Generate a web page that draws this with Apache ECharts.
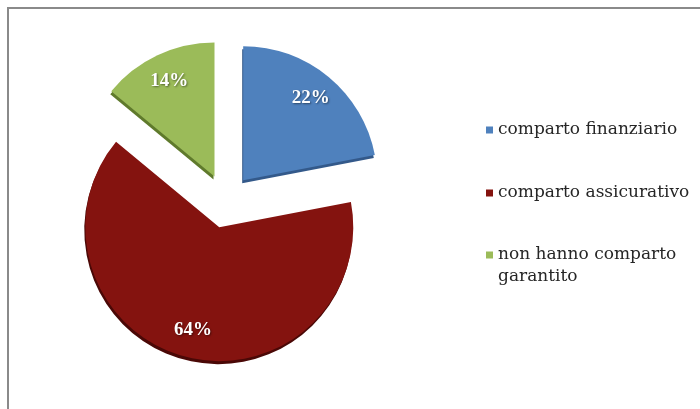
<!DOCTYPE html>
<html>
<head>
<meta charset="utf-8">
<script src="https://cdn.jsdelivr.net/npm/echarts@6/dist/echarts.min.js"></script>
<style>
  html, body { margin: 0; padding: 0; background: #fff; }
  #chart { position: absolute; left: 0; top: 0; width: 700px; height: 409px; }
  .frame {
    position: absolute; left: 7px; top: 7px; width: 700px; height: 409px;
    border-left: 2px solid #8a8a8a; border-top: 2px solid #8a8a8a;
    pointer-events: none;
  }
</style>
</head>
<body>
<div id="chart"></div>
<div class="frame"></div>
<script>
// dati del grafico
const categories = ['comparto finanziario', 'comparto assicurativo', 'non hanno comparto garantito'];
const shares = [22, 64, 14];

// colori stile Office
const sliceColors = ['#4f81bd', '#84130f', '#9bbb59'];
const edgeColors = ['#33598a', '#4a0806', '#5f7a2c'];

const pieCenter = [226, 201];
const pieRadius = 134;
const explode = 27;

let chart = echarts.init(document.getElementById('chart'));

// spicchi colorati (etichette nascoste)
let sliceData = categories.map((name, i) => ({
  name: name,
  value: shares[i],
  selected: true,
  itemStyle: {
    color: sliceColors[i],
    shadowColor: edgeColors[i],
    shadowBlur: 0,
    shadowOffsetX: -1,
    shadowOffsetY: 3
  }
}));

// anello trasparente solo per posizionare le percentuali più verso il bordo
let labelData = categories.map((name, i) => ({
  name: name,
  value: shares[i],
  selected: true,
  itemStyle: { color: 'rgba(0,0,0,0)' }
}));

let legendText = {
  fontFamily: 'DejaVu Serif',
  fontSize: 17,
  lineHeight: 22,
  color: '#262626'
};

let option = {
  animation: false,
  legend: [
    {
      orient: 'vertical',
      left: 486,
      top: 119,
      padding: 0,
      itemGap: 41,
      itemWidth: 7,
      itemHeight: 7,
      icon: 'rect',
      selectedMode: false,
      data: categories.slice(0, 2),
      textStyle: legendText
    },
    {
      // riga vuota davanti: il quadratino resta allineato alla prima riga
      orient: 'vertical',
      left: 486,
      top: 222,
      padding: 0,
      itemWidth: 7,
      itemHeight: 7,
      icon: 'rect',
      selectedMode: false,
      data: categories.slice(2),
      formatter: name => '\n' + name,
      textStyle: Object.assign({}, legendText, {
        width: 190,
        overflow: 'break'
      })
    }
  ],
  series: [
    {
      name: 'comparto',
      type: 'pie',
      center: pieCenter,
      radius: pieRadius,
      startAngle: 90,
      clockwise: true,
      selectedMode: 'multiple',
      selectedOffset: explode,
      silent: true,
      label: { show: false },
      labelLine: { show: false },
      data: sliceData
    },
    {
      name: 'etichette',
      type: 'pie',
      center: pieCenter,
      radius: [72, pieRadius],
      startAngle: 90,
      clockwise: true,
      selectedMode: 'multiple',
      selectedOffset: explode,
      silent: true,
      label: {
        show: true,
        position: 'inner',
        formatter: '{c}%',
        color: '#ffffff',
        fontFamily: 'Liberation Serif',
        fontWeight: 'bold',
        fontSize: 19,
        textShadowColor: 'rgba(0,0,0,0.45)',
        textShadowBlur: 2,
        textShadowOffsetX: 1,
        textShadowOffsetY: 1
      },
      labelLine: { show: false },
      data: labelData
    }
  ]
};

chart.setOption(option);
</script>
</body>
</html>
